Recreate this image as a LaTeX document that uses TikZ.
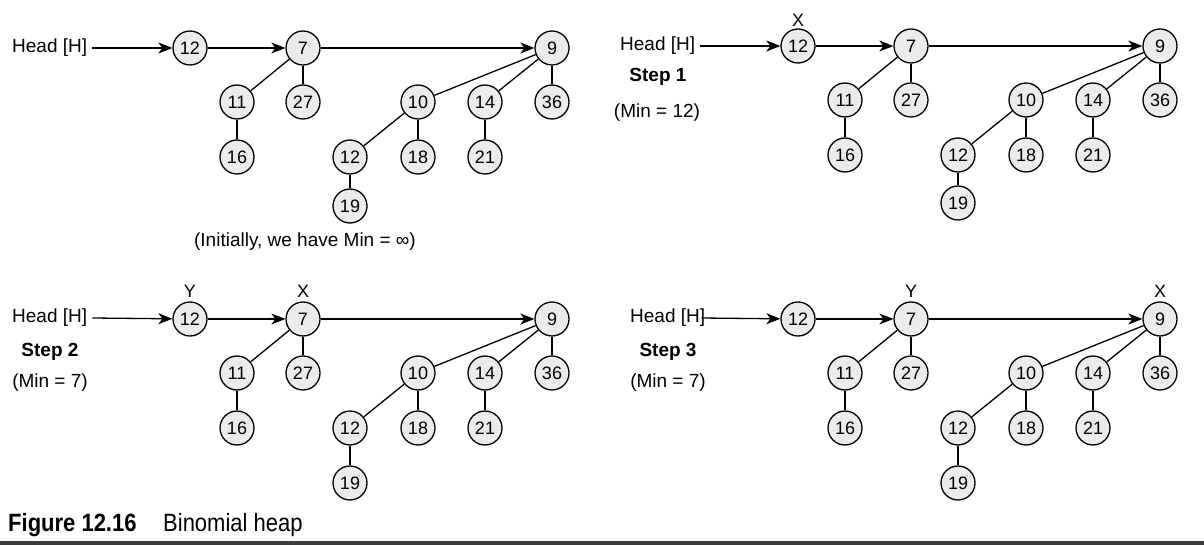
\documentclass[tikz,border=0pt]{standalone}
\usepackage{graphicx}
\usepackage{fontspec}
\setmainfont{Liberation Sans}
\usetikzlibrary{arrows.meta}
\definecolor{nodefill}{RGB}{235,235,235}
\definecolor{rulegray}{RGB}{60,60,60}
\tikzset{
  hnode/.style={circle, draw, fill=nodefill, line width=1.3pt, minimum size=34pt,
    inner sep=0pt, font=\fontsize{18}{20}\selectfont},
  link/.style={line width=1.3pt},
  ptr/.style={line width=1.3pt, -{Stealth[length=14pt,width=11pt,inset=4pt]}},
  lbl/.style={font=\fontsize{19}{22}\selectfont, inner sep=0pt},
  steplbl/.style={font=\fontsize{19}{22}\selectfont\bfseries, inner sep=0pt},
  marklbl/.style={font=\fontsize{18}{21}\selectfont, inner sep=0pt},
  figlbl/.style={font=\fontsize{25}{28}\selectfont, inner sep=0pt, anchor=base west},
}
% One binomial heap: #1 name prefix, (#2,#3) position of the first root,
% #4 vertical distance from node 12 to its child 19
\newcommand\heaptree[4]{%
  \begin{scope}[shift={(#2,#3)}]
    \node[hnode] (#1-r12) at (0,0)   {12};
    \node[hnode] (#1-r7)  at (113,0) {7};
    \node[hnode] (#1-r9)  at (362,0) {9};
    \node[hnode] (#1-n11) at (47,54)  {11};
    \node[hnode] (#1-n27) at (113,54) {27};
    \node[hnode] (#1-n16) at (47,109) {16};
    \node[hnode] (#1-n10) at (228,54) {10};
    \node[hnode] (#1-n14) at (295,54) {14};
    \node[hnode] (#1-n36) at (362,54) {36};
    \node[hnode] (#1-n12) at (160,109) {12};
    \node[hnode] (#1-n18) at (228,109) {18};
    \node[hnode] (#1-n21) at (295,109) {21};
    \node[hnode] (#1-n19) at (160,109+#4) {19};
    % root list
    \draw[ptr] (#1-r12) -- (#1-r7);
    \draw[ptr] (#1-r7) -- (#1-r9);
    % children
    \draw[link] (#1-r7) -- (#1-n11);
    \draw[link] (#1-r7) -- (#1-n27);
    \draw[link] (#1-n11) -- (#1-n16);
    \draw[link] (#1-r9) -- (#1-n10);
    \draw[link] (#1-r9) -- (#1-n14);
    \draw[link] (#1-r9) -- (#1-n36);
    \draw[link] (#1-n10) -- (#1-n12);
    \draw[link] (#1-n10) -- (#1-n18);
    \draw[link] (#1-n14) -- (#1-n21);
    \draw[link] (#1-n12) -- (#1-n19);
  \end{scope}}

\begin{document}
\begin{tikzpicture}[x=1pt, y=-1pt]
  \useasboundingbox (0,0) rectangle (1204,545);

  % initial heap
  \heaptree{a}{190}{48}{49}
  \node[lbl, anchor=west] (a-head) at (12,48) {Head [H]};
  \coordinate (a-start) at ([xshift=5pt]a-head.east);
  \draw[ptr] (a-start) -- (a-r12);
  \node[lbl] (a-note) at (305,242) {(Initially, we have Min = ∞)};

  % step 1
  \heaptree{b}{798}{46}{48}
  \node[lbl, anchor=west] (b-head) at (620,46) {Head [H]};
  \coordinate (b-start) at ([xshift=5pt]b-head.east);
  \draw[ptr] (b-start) -- (b-r12);
  \node[marklbl] (b-x) at ([yshift=26pt]b-r12.center) {X};
  \node[steplbl] (b-step) at (658,77) {Step 1};
  \node[lbl] (b-min) at (657,113) {(Min = 12)};

  % step 2
  \heaptree{c}{190}{319}{55}
  \node[lbl, anchor=west] (c-head) at (12,318) {Head [H]};
  \coordinate (c-start) at ([xshift=5pt]c-head.east);
  \draw[ptr] (c-start) -- (c-r12);
  \node[marklbl] (c-y) at ([yshift=28pt]c-r12.center) {Y};
  \node[marklbl] (c-x) at ([yshift=28pt]c-r7.center) {X};
  \node[steplbl] (c-step) at (50,352) {Step 2};
  \node[lbl] (c-min) at (50,383) {(Min = 7)};

  % step 3
  \heaptree{d}{798}{319}{55}
  \node[lbl, anchor=west] (d-head) at (630,318) {Head [H]};
  \coordinate (d-start) at ([xshift=-4pt]d-head.east);
  \draw[ptr] (d-start) -- (d-r12);
  \node[marklbl] (d-y) at ([yshift=28pt]d-r7.center) {Y};
  \node[marklbl] (d-x) at ([yshift=28pt]d-r9.center) {X};
  \node[steplbl] (d-step) at (668,352) {Step 3};
  \node[lbl] (d-min) at (668,383) {(Min = 7)};

  % figure caption and rule
  \node[figlbl] (fig-num) at (8,531) {\scalebox{0.88}[1]{\bfseries Figure 12.16}};
  \node[figlbl] (fig-title) at (163,531) {\scalebox{0.88}[1]{Binomial heap}};
  \fill[rulegray] (0,541) rectangle (1204,545);
\end{tikzpicture}
\end{document}
